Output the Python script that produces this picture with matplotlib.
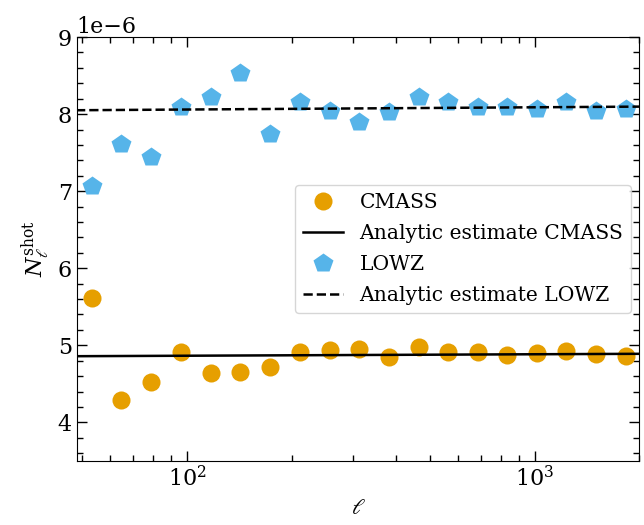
import matplotlib
matplotlib.use("Agg")
import matplotlib.pyplot as plt
from matplotlib.ticker import MultipleLocator

plt.rcParams['font.family'] = ['DejaVu Serif']
plt.rcParams['mathtext.fontset'] = 'dejavuserif'

ell = [53.3, 64.8, 78.6, 95.9, 117.0, 142.4, 173.7, 211.8, 257.0, 312.5,
       379.8, 463.3, 564.9, 686.8, 834.8, 1014.6, 1233.5, 1504.6, 1828.7]
cmass = [5.615, 4.289, 4.527, 4.916, 4.644, 4.657, 4.725, 4.911, 4.933, 4.955,
         4.846, 4.975, 4.907, 4.907, 4.872, 4.903, 4.920, 4.885, 4.868]
lowz = [7.07, 7.614, 7.44, 8.097, 8.227, 8.53, 7.744, 8.154, 8.041, 7.903,
        8.032, 8.227, 8.162, 8.097, 8.097, 8.067, 8.158, 8.041, 8.067]
analytic_ell = [48, 2000]
analytic_cmass = [4.859, 4.890]
analytic_lowz = [8.050, 8.097]

scale = 1e-6
orange = '#E69F00'
blue = '#56B4E9'

fig = plt.figure(figsize=(6.44, 5.25), dpi=100)
ax = fig.add_axes([0.119, 0.122, 0.874, 0.8075])

ax.plot(ell, [v * scale for v in cmass], 'o', color=orange, ms=13, mec='none', label='CMASS')
ax.plot(analytic_ell, [v * scale for v in analytic_cmass], '-', color='black', lw=1.8,
        label='Analytic estimate CMASS')
ax.plot(ell, [v * scale for v in lowz], 'p', color=blue, ms=14.5, mec='none', label='LOWZ')
ax.plot(analytic_ell, [v * scale for v in analytic_lowz], '--', color='black', lw=1.8,
        label='Analytic estimate LOWZ')

ax.set_xscale('log')
ax.set_xlim(48.2, 2000)
ax.set_ylim(3.5e-6, 9e-6)
ax.yaxis.set_major_locator(MultipleLocator(1e-6))
ax.yaxis.set_minor_locator(MultipleLocator(0.2e-6))
ax.tick_params(which='both', direction='in', top=True, right=True, labelsize=16)
ax.tick_params(which='major', length=7, width=1)
ax.tick_params(which='minor', length=4, width=1)
ax.yaxis.get_offset_text().set_fontsize(16)

ax.set_xlabel(r'$\ell$', fontsize=16)
ax.set_ylabel(r'$N_\ell^{\rm shot}$', fontsize=16)

ax.legend(loc='center right', fontsize=14.6, labelspacing=0.6, framealpha=0.8,
          borderaxespad=0.4)

fig.savefig('out.png', dpi=100)
